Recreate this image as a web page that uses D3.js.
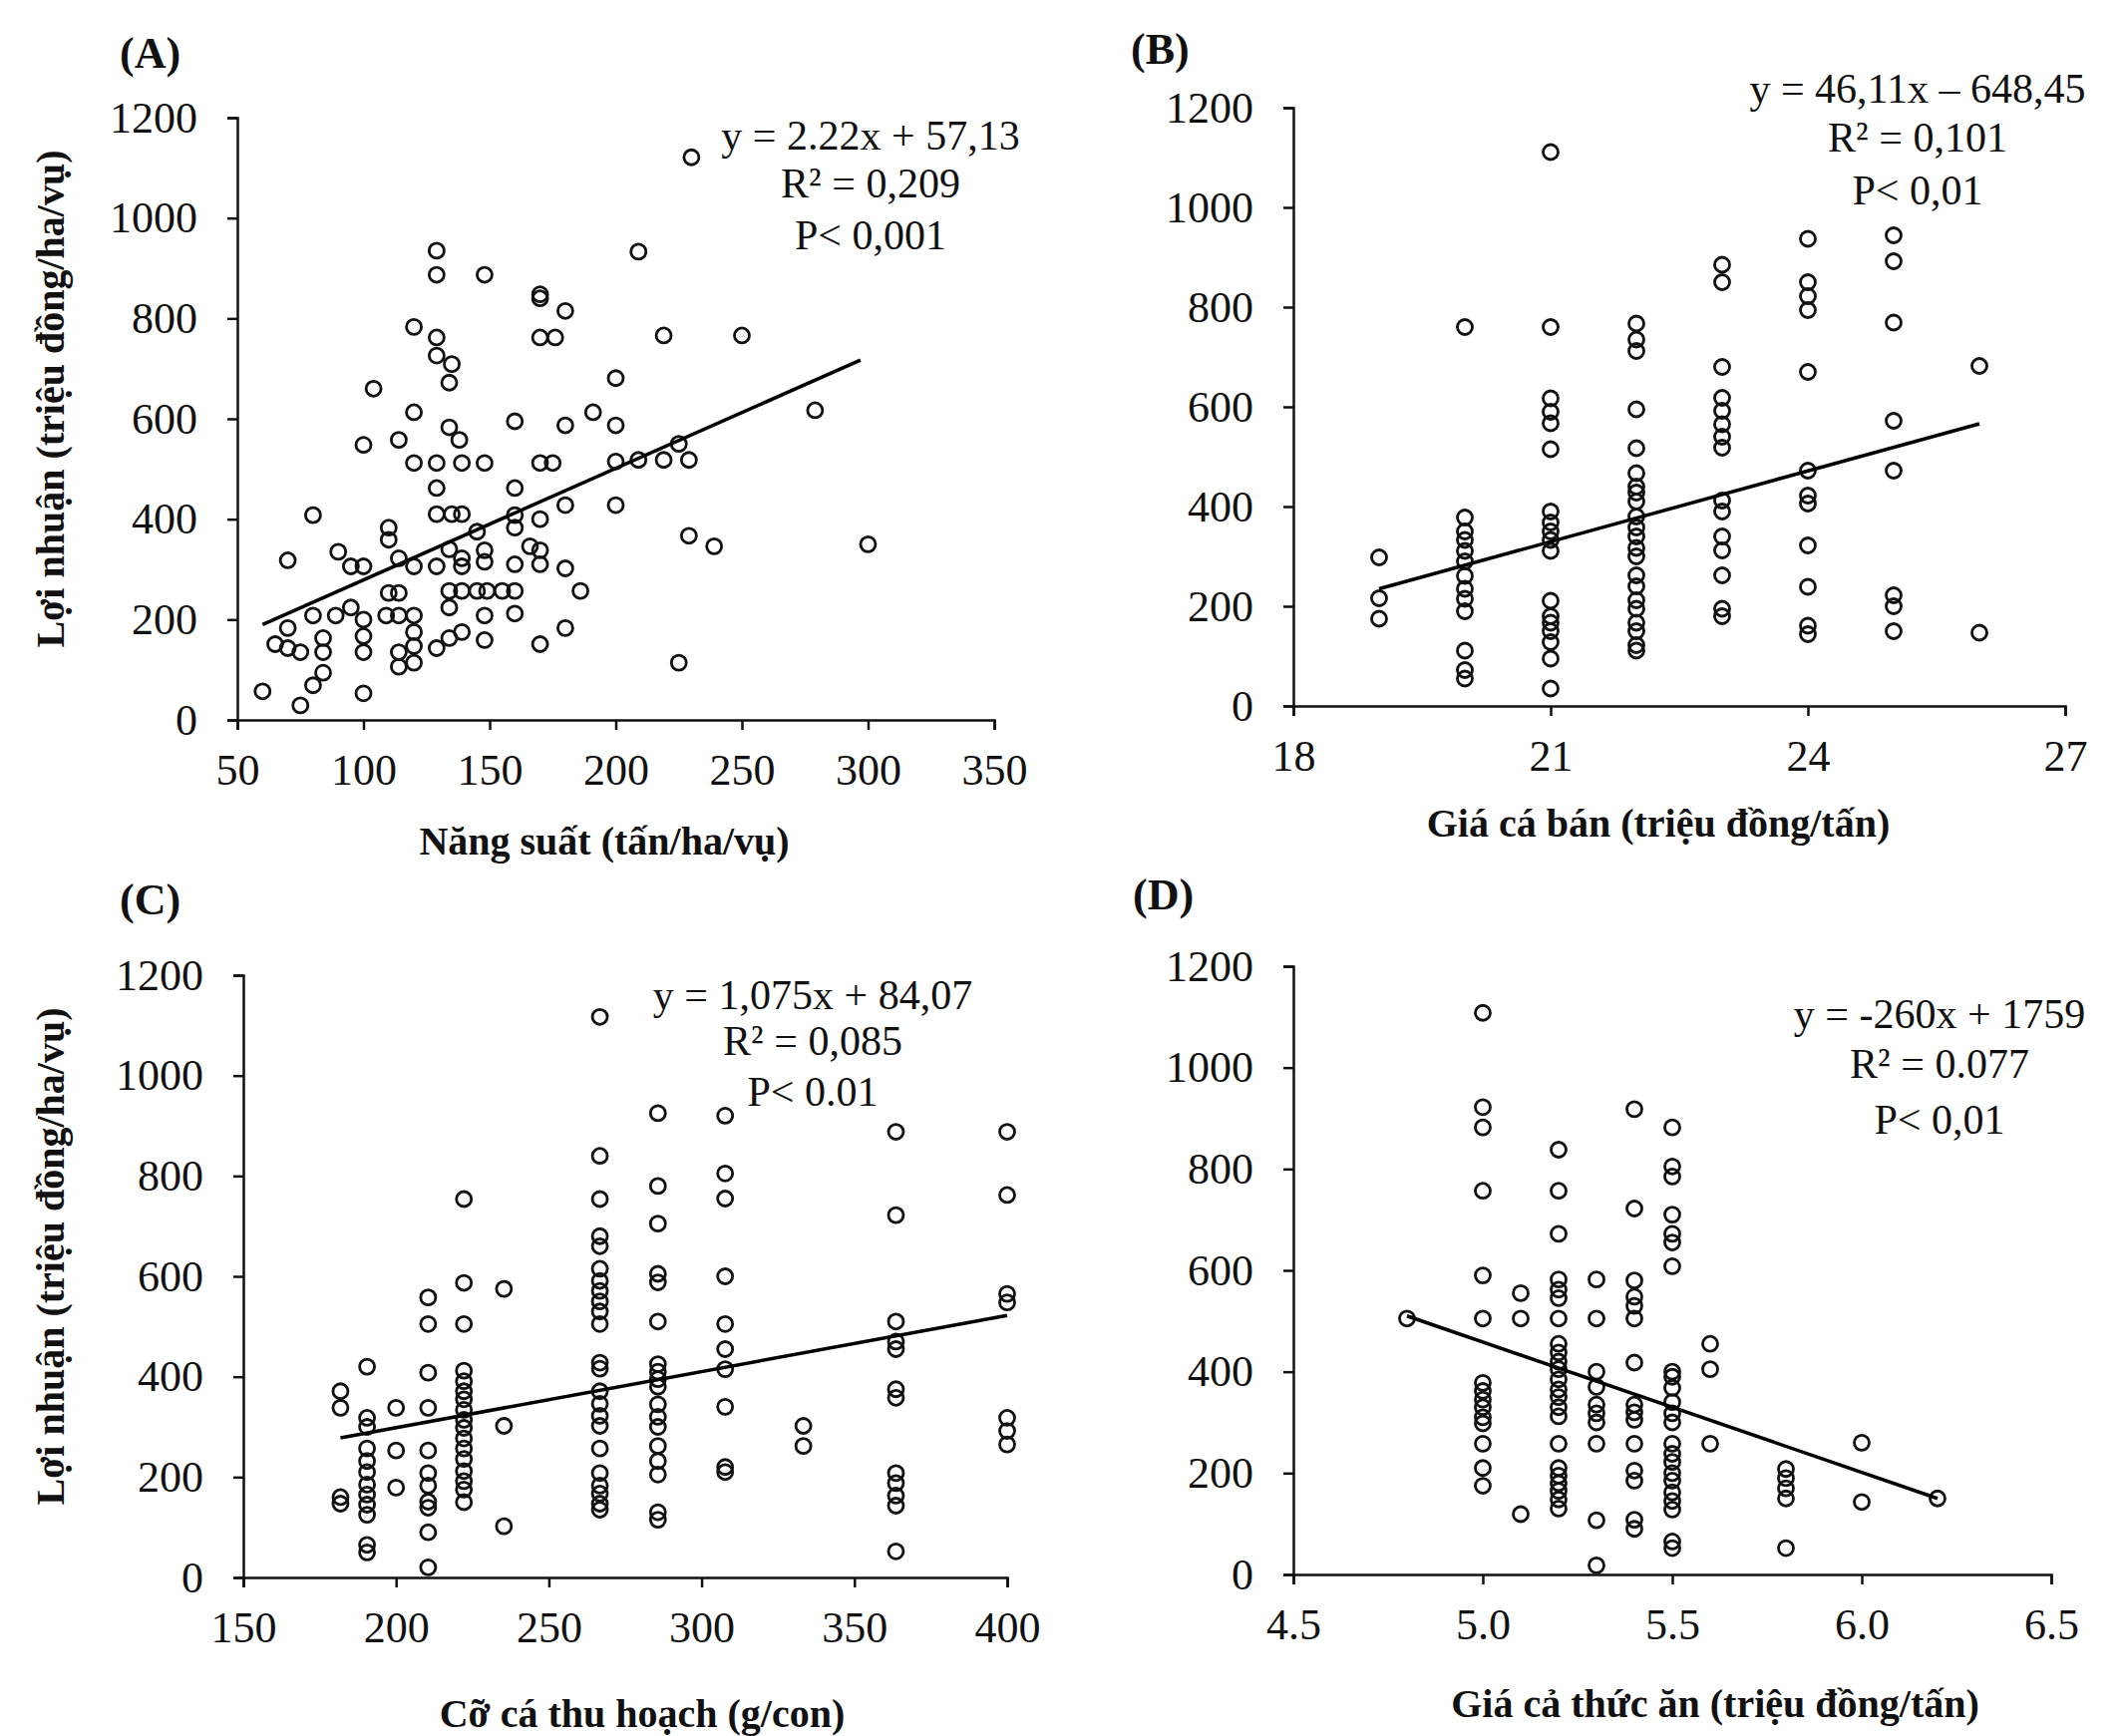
<!DOCTYPE html>
<html>
<head>
<meta charset="utf-8">
<script src="https://cdn.jsdelivr.net/npm/d3@7"></script>
<style>
  body { margin: 0; background: #fff; }
  svg { display: block; }
</style>
</head>
<body>
<svg id="chart"></svg>
<script>
// shared y axis (profit, million VND/ha/crop)
let yTicks = [0, 200, 400, 600, 800, 1000, 1200]
let yTitle = 'Lợi nhuận (triệu đồng/ha/vụ)'

// (A) yield vs profit, points as [yield, profit]
let aPoints = [
  [60,57],[65,151],[70,143],[70,183],[70,318],[75,29],[75,135],[80,69],[80,208],[80,408],
  [84,94],[84,135],[84,163],[89,208],[90,335],[95,224],[95,306],[100,53],[100,135],[100,167],
  [100,200],[100,306],[100,548],[104,660],[109,208],[110,253],[110,359],[110,383],[114,106],[114,135],
  [114,208],[114,253],[114,322],[114,558],[120,114],[120,147],[120,175],[120,208],[120,306],[120,512],
  [120,613],[120,783],[129,143],[129,306],[129,410],[129,462],[129,512],[129,726],[129,762],[129,887],
  [129,935],[134,163],[134,224],[134,257],[134,340],[134,583],[134,672],[135,410],[135,709],[138,558],
  [139,175],[139,257],[139,306],[139,322],[139,410],[139,512],[145,257],[145,375],[148,159],[148,208],
  [148,315],[148,338],[148,512],[148,887],[149,257],[155,257],[160,212],[160,257],[160,310],[160,383],
  [160,408],[160,462],[160,595],[166,346],[170,151],[170,310],[170,338],[170,400],[170,512],[170,762],
  [170,840],[170,848],[175,512],[176,762],[180,183],[180,302],[180,428],[180,587],[180,815],[186,257],
  [191,613],[200,428],[200,515],[200,587],[200,681],[209,518],[209,933],[219,518],[219,766],[225,114],
  [225,550],[229,367],[229,518],[230,1121],[239,346],[250,766],[279,617],[300,350]
]
let aTicks = [50, 100, 150, 200, 250, 300, 350]
let aTrend = [[60, 190], [297, 717]]

// (B) fish selling price: one column of profits per price
let bPrice = [19, 20, 21, 22, 23, 24, 25, 26]
let bProfit = [
  [298, 216, 175],
  [760, 378, 350, 333, 311, 290, 261, 235, 215, 190, 111, 72, 55],
  [1111, 760, 617, 590, 567, 515, 390, 368, 350, 333, 311, 211, 180, 167, 150, 128, 95, 35],
  [767, 735, 712, 595, 517, 467, 440, 428, 410, 380, 358, 340, 317, 300, 262, 240, 212, 195, 167, 150, 122, 111],
  [885, 850, 680, 618, 592, 565, 540, 518, 412, 390, 340, 312, 262, 195, 180],
  [937, 850, 822, 794, 670, 472, 422, 406, 322, 239, 161, 144],
  [944, 892, 769, 572, 472, 222, 200, 150],
  [682, 147]
]
let bTicks = [18, 21, 24, 27]
let bTrend = [[19, 235], [26, 566]]

// (C) harvest size (g/fish)
let cSize = [181.8, 190.5, 200, 210.5, 222.2, 235.3, 266.7, 285.7, 307.7, 333.3, 363.6, 400]
let cProfit = [
  [371, 338, 160, 147],
  [420, 318, 300, 257, 232, 210, 185, 165, 145, 125, 65, 50],
  [338, 253, 179],
  [558, 505, 408, 338, 253, 208, 183, 151, 139, 90, 20],
  [754, 587, 505, 412, 391, 371, 355, 334, 314, 298, 277, 257, 236, 212, 192, 175, 150],
  [575, 302, 102],
  [1117, 840, 754, 680, 660, 615, 591, 571, 550, 530, 505, 428, 416, 371, 346, 322, 302, 257, 208, 183, 167, 147, 135],
  [925, 780, 705, 605, 588, 510, 425, 410, 395, 380, 345, 320, 300, 262, 232, 205, 130, 115],
  [920, 805, 755, 600, 505, 455, 415, 340, 220, 210],
  [302, 262],
  [888, 722, 510, 470, 455, 375, 358, 208, 188, 163, 143, 52],
  [888, 762, 565, 548, 318, 292, 265]
]
let cTicks = [150, 200, 250, 300, 350, 400]
let cTrend = [[181.8, 278], [400, 522]]

// (D) feed price
let dFeed = [4.8, 5.0, 5.1, 5.2, 5.3, 5.4, 5.5, 5.6, 5.8, 6.0, 6.2]
let dProfit = [
  [505],
  [1108, 922, 882, 757, 590, 505, 378, 362, 345, 330, 310, 298, 258, 210, 175],
  [555, 505, 119],
  [838, 757, 672, 582, 562, 545, 505, 455, 438, 420, 405, 385, 365, 350, 330, 312, 258, 210, 195, 180, 165, 148, 130],
  [582, 505, 400, 370, 335, 318, 300, 258, 107, 18],
  [918, 722, 580, 548, 530, 505, 418, 335, 320, 305, 258, 205, 185, 108, 90],
  [882, 805, 785, 710, 672, 655, 608, 400, 390, 368, 340, 318, 300, 258, 238, 222, 200, 185, 162, 145, 128, 65, 52],
  [455, 405, 258],
  [208, 190, 170, 150, 52],
  [260, 143],
  [150]
]
let dTicks = [4.5, 5.0, 5.5, 6.0, 6.5]
let dTrend = [[4.8, 510], [6.2, 150]]

let width = 2129
let height = 1741
let serif = '"Liberation Serif", "Times New Roman", serif'

let svg = d3.select('#chart')
  .attr('width', width)
  .attr('height', height)

// columns -> [x, y] pairs
let columns = (xs, ys) => xs.flatMap((v, i) => ys[i].map(p => [v, p]))

let panels = [
  { tag: '(A)', tagX: 120, tagY: 68, left: 238, right: 997, top: 118, bottom: 722,
    domain: [50, 350], ticks: aTicks, fmt: d3.format('d'), points: aPoints, trend: aTrend,
    xTitle: 'Năng suất (tấn/ha/vụ)', xTitleX: 606, xTitleY: 857, yTitleX: 50,
    eq: ['y = 2.22x + 57,13', 'R² = 0,209', 'P< 0,001'], eqX: 873, eqY: [150, 198, 250] },
  { tag: '(B)', tagX: 1134, tagY: 64, left: 1297, right: 2071, top: 108, bottom: 708,
    domain: [18, 27], ticks: bTicks, fmt: d3.format('d'), points: columns(bPrice, bProfit), trend: bTrend,
    xTitle: 'Giá cá bán (triệu đồng/tấn)', xTitleX: 1663, xTitleY: 839,
    eq: ['y = 46,11x – 648,45', 'R² = 0,101', 'P< 0,01'], eqX: 1923, eqY: [103, 152, 205] },
  { tag: '(C)', tagX: 120, tagY: 917, left: 244, right: 1010, top: 978, bottom: 1582,
    domain: [150, 400], ticks: cTicks, fmt: d3.format('d'), points: columns(cSize, cProfit), trend: cTrend,
    xTitle: 'Cỡ cá thu hoạch (g/con)', xTitleX: 644, xTitleY: 1732, yTitleX: 50,
    eq: ['y = 1,075x + 84,07', 'R² = 0,085', 'P< 0.01'], eqX: 815, eqY: [1012, 1058, 1109] },
  { tag: '(D)', tagX: 1136, tagY: 912, left: 1297, right: 2057, top: 969, bottom: 1579,
    domain: [4.5, 6.5], ticks: dTicks, fmt: d3.format('.1f'), points: columns(dFeed, dProfit), trend: dTrend,
    xTitle: 'Giá cả thức ăn (triệu đồng/tấn)', xTitleX: 1720, xTitleY: 1722,
    eq: ['y = -260x + 1759', 'R² = 0.077', 'P< 0,01'], eqX: 1945, eqY: [1031, 1081, 1137] }
]

let styleAxis = (g) => {
  g.attr('font-family', serif).attr('font-size', 44)
  g.selectAll('path, line').attr('stroke', '#111').attr('stroke-width', 2.5)
  g.selectAll('text').attr('fill', '#111')
}

let drawPanel = (p) => {
  let xScale = d3.scaleLinear().domain(p.domain).range([p.left, p.right])
  let yScale = d3.scaleLinear().domain([0, 1200]).range([p.bottom, p.top])

  let g = svg.append('g')

  g.append('g')
    .attr('transform', `translate(0,${p.bottom})`)
    .call(d3.axisBottom(xScale).tickValues(p.ticks).tickFormat(p.fmt).tickSize(10).tickSizeOuter(10).tickPadding(24))
    .call(styleAxis)

  g.append('g')
    .attr('transform', `translate(${p.left},0)`)
    .call(d3.axisLeft(yScale).tickValues(yTicks).tickFormat(d3.format('d')).tickSize(10).tickSizeOuter(10).tickPadding(30))
    .call(styleAxis)

  g.selectAll('circle')
    .data(p.points)
    .enter()
    .append('circle')
    .attr('cx', d => xScale(d[0]))
    .attr('cy', d => yScale(d[1]))
    .attr('r', 7.5)
    .attr('fill', 'none')
    .attr('stroke', '#111')
    .attr('stroke-width', 2.8)

  g.append('path')
    .datum(p.trend)
    .attr('d', d3.line().x(d => xScale(d[0])).y(d => yScale(d[1])))
    .attr('stroke', '#000')
    .attr('stroke-width', 3.5)
    .attr('fill', 'none')

  // panel letter
  g.append('text')
    .attr('x', p.tagX)
    .attr('y', p.tagY)
    .attr('font-family', serif)
    .attr('font-weight', 'bold')
    .attr('font-size', 44)
    .attr('fill', '#111')
    .text(p.tag)

  // regression note
  g.selectAll('.eq')
    .data(p.eq)
    .enter()
    .append('text')
    .attr('class', 'eq')
    .attr('x', p.eqX)
    .attr('y', (d, i) => p.eqY[i])
    .attr('text-anchor', 'middle')
    .attr('font-family', serif)
    .attr('font-size', 42)
    .attr('fill', '#111')
    .text(d => d)

  g.append('text')
    .attr('x', p.xTitleX)
    .attr('y', p.xTitleY)
    .attr('text-anchor', 'middle')
    .attr('font-family', serif)
    .attr('font-weight', 'bold')
    .attr('font-size', 40)
    .attr('fill', '#111')
    .text(p.xTitle)

  if (p.yTitleX) {
    let cy = (p.top + p.bottom) / 2 - 20
    g.append('text')
      .attr('transform', `translate(${p.yTitleX},${cy}) rotate(-90)`)
      .attr('text-anchor', 'middle')
      .attr('dominant-baseline', 'central')
      .attr('font-family', serif)
      .attr('font-weight', 'bold')
      .attr('font-size', 40)
      .attr('fill', '#111')
      .text(yTitle)
  }
}

panels.forEach(drawPanel)
</script>
</body>
</html>
